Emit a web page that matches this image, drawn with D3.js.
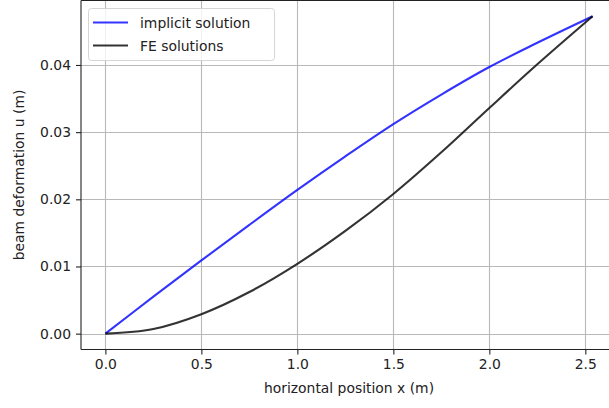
<!DOCTYPE html>
<html>
<head>
<meta charset="utf-8">
<script src="https://cdn.jsdelivr.net/npm/d3@7"></script>
<style>
  body { margin: 0; background: #fff; }
  svg { display: block; font-family: "DejaVu Sans", sans-serif; }
</style>
</head>
<body>
<svg id="chart" width="609" height="408"></svg>
<script>
// x positions (m)
var xs = [0, 0.25, 0.5, 0.75, 1.0, 1.25, 1.5, 1.75, 2.0, 2.25, 2.538];
// implicit solution u(x)
var implicitU = [0, 0.0055, 0.0109, 0.0162, 0.0214, 0.0264, 0.0312, 0.0356, 0.0397, 0.0433, 0.04725];
// FE solutions u(x)
var feU = [0, 0.0007, 0.0029, 0.0062, 0.0104, 0.0153, 0.0208, 0.0270, 0.0336, 0.0401, 0.04725];

var xTicks = [0, 0.5, 1.0, 1.5, 2.0, 2.5];
var yTicks = [0, 0.01, 0.02, 0.03, 0.04];

var svg = d3.select("#chart");
var pLeft = 81, pRight = 617, pTop = 0.5, pBottom = 349.5;

var x = d3.scaleLinear().domain([-0.127, 2.665]).range([pLeft, pRight]);
var y = d3.scaleLinear().domain([-0.00236, 0.0496]).range([pBottom, pTop]);

// grid
var grid = svg.append("g").attr("stroke", "#b8b8b8").attr("stroke-width", 1.1);
grid.selectAll("line.gx").data(xTicks).enter().append("line")
    .attr("x1", function(d) { return Math.round(x(d)) + 0.5; })
    .attr("x2", function(d) { return Math.round(x(d)) + 0.5; })
    .attr("y1", pTop).attr("y2", pBottom);
grid.selectAll("line.gy").data(yTicks).enter().append("line")
    .attr("y1", function(d) { return Math.round(y(d)) + 0.5; })
    .attr("y2", function(d) { return Math.round(y(d)) + 0.5; })
    .attr("x1", pLeft).attr("x2", pRight);

// lines
var line = d3.line()
    .x(function(d) { return x(d[0]); })
    .y(function(d) { return y(d[1]); })
    .curve(d3.curveCatmullRom.alpha(0.5));

svg.append("path")
    .datum(xs.map(function(v, i) { return [v, implicitU[i]]; }))
    .attr("fill", "none").attr("stroke", "#0000ff").attr("stroke-opacity", 0.8)
    .attr("stroke-width", 2.1).attr("d", line);
svg.append("path")
    .datum(xs.map(function(v, i) { return [v, feU[i]]; }))
    .attr("fill", "none").attr("stroke", "#000").attr("stroke-opacity", 0.8)
    .attr("stroke-width", 2.1).attr("d", line);

// axes
var xAxis = svg.append("g").attr("transform", "translate(0," + pBottom + ")")
    .call(d3.axisBottom(x).tickValues(xTicks).tickFormat(d3.format(".1f")).tickSize(5).tickPadding(5));
var yAxis = svg.append("g").attr("transform", "translate(" + pLeft + ",0)")
    .call(d3.axisLeft(y).tickValues(yTicks).tickFormat(d3.format(".2f")).tickSize(5).tickPadding(5));
[xAxis, yAxis].forEach(function(a) {
  a.select(".domain").remove();
  a.selectAll("line").attr("stroke", "#222").attr("stroke-width", 1.1);
  a.selectAll("text").attr("fill", "#222").style("font-size", "13.9px")
      .style("font-family", "'DejaVu Sans', sans-serif");
});

// spines
var sp = svg.append("g").attr("stroke", "#222").attr("stroke-width", 1.1).attr("fill", "none");
sp.append("line").attr("x1", pLeft).attr("x2", pLeft).attr("y1", pTop).attr("y2", pBottom);
sp.append("line").attr("x1", pLeft).attr("x2", pRight).attr("y1", pBottom).attr("y2", pBottom);
sp.append("line").attr("x1", pLeft).attr("x2", pRight).attr("y1", pTop).attr("y2", pTop);

// axis labels
svg.append("text").attr("x", (pLeft + pRight) / 2).attr("y", 393)
    .attr("text-anchor", "middle").attr("fill", "#222").style("font-size", "13.9px")
    .text("horizontal position x (m)");
svg.append("text").attr("transform", "translate(24," + (pTop + pBottom) / 2 + ") rotate(-90)")
    .attr("text-anchor", "middle").attr("fill", "#222").style("font-size", "13.9px")
    .text("beam deformation u (m)");

// legend
var lg = svg.append("g");
lg.append("rect").attr("x", 88.5).attr("y", 8.5).attr("width", 186).attr("height", 52)
    .attr("rx", 3).attr("fill", "#fff").attr("fill-opacity", 0.8)
    .attr("stroke", "#d5d5d5").attr("stroke-width", 1);
var items = [["implicit solution", "#0000ff"], ["FE solutions", "#000"]];
items.forEach(function(it, i) {
  var yy = 22.5 + i * 23;
  lg.append("line").attr("x1", 93).attr("x2", 128).attr("y1", yy).attr("y2", yy)
      .attr("stroke", it[1]).attr("stroke-opacity", 0.8).attr("stroke-width", 2.1);
  lg.append("text").attr("x", 140).attr("y", yy + 5).attr("fill", "#222")
      .style("font-size", "13.9px").text(it[0]);
});
</script>
</body>
</html>
